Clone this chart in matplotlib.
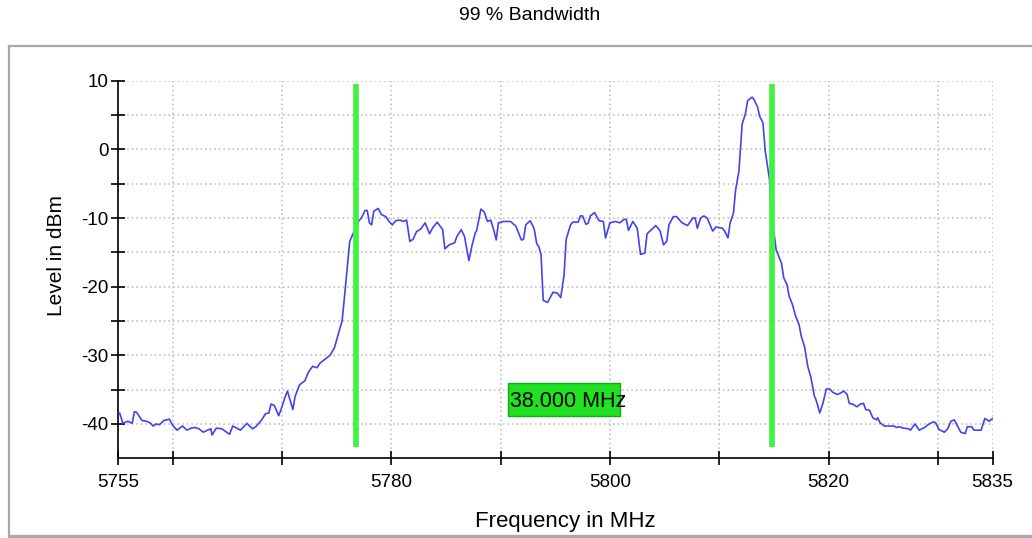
import matplotlib
matplotlib.use("Agg")
import matplotlib.pyplot as plt
from matplotlib.lines import Line2D
from matplotlib.patches import Rectangle

# ---------------- data ----------------
freq_mhz = [
    5755.0, 5755.15, 5755.45, 5755.9, 5756.3, 5756.5, 5756.7, 5757.2, 5757.6, 5758.0,
    5758.2, 5758.5, 5758.8, 5759.2, 5759.7, 5760.0, 5760.4, 5760.9, 5761.3, 5761.7,
    5762.0, 5762.4, 5762.8, 5763.2, 5763.5, 5763.6, 5764.0, 5764.5, 5765.2, 5765.5,
    5766.2, 5766.8, 5767.3, 5767.6, 5768.1, 5768.5, 5768.8, 5769.0, 5769.3, 5769.7,
    5770.0, 5770.3, 5770.5, 5771.0, 5771.2, 5771.6, 5772.1, 5772.4, 5772.8, 5773.2,
    5773.5, 5774.0, 5774.4, 5774.8, 5775.1, 5775.5, 5775.7, 5776.2, 5776.6, 5776.8,
    5777.0, 5777.3, 5777.6, 5777.8, 5778.0, 5778.2, 5778.4, 5778.8, 5779.1, 5779.5,
    5779.8, 5780.1, 5780.4, 5780.8, 5781.1, 5781.4, 5781.7, 5782.0, 5782.3, 5782.7,
    5783.1, 5783.5, 5783.8, 5784.2, 5784.7, 5784.9, 5785.3, 5785.8, 5786.0, 5786.4,
    5786.7, 5787.1, 5787.4, 5787.7, 5787.8, 5788.2, 5788.5, 5788.8, 5789.1, 5789.4,
    5789.6, 5789.8, 5790.3, 5790.9, 5791.4, 5791.9, 5792.1, 5792.3, 5792.7, 5793.0,
    5793.1, 5793.3, 5793.5, 5793.7, 5793.9, 5794.3, 5794.8, 5795.2, 5795.5, 5795.8,
    5796.0, 5796.4, 5796.6, 5797.1, 5797.3, 5797.5, 5797.8, 5798.0, 5798.2, 5798.6,
    5799.0, 5799.4, 5799.6, 5800.0, 5800.5, 5800.9, 5801.3, 5801.5, 5801.7, 5802.1,
    5802.5, 5802.8, 5803.2, 5803.4, 5803.8, 5804.2, 5804.6, 5804.9, 5805.2, 5805.4,
    5805.8, 5806.1, 5806.6, 5807.1, 5807.6, 5807.8, 5808.0, 5808.3, 5808.6, 5808.9,
    5809.4, 5809.7, 5810.3, 5810.5, 5810.8, 5811.0, 5811.3, 5811.5, 5811.8, 5812.1,
    5812.4, 5812.6, 5813.0, 5813.2, 5813.5, 5813.7, 5814.0, 5814.2, 5814.6, 5814.7,
    5815.0, 5815.2, 5815.7, 5815.9, 5816.2, 5816.4, 5816.7, 5816.95, 5817.3, 5817.5,
    5817.8, 5818.1, 5818.4, 5818.7, 5818.9, 5819.2, 5819.5, 5819.8, 5820.1, 5820.4,
    5820.8, 5821.1, 5821.4, 5821.7, 5821.9, 5822.2, 5822.6, 5822.9, 5823.2, 5823.4,
    5823.75, 5824.05, 5824.4, 5824.5, 5824.7, 5825.1, 5825.6, 5826.0, 5826.2, 5826.5,
    5826.8, 5827.3, 5827.5, 5827.9, 5828.3, 5828.8, 5829.2, 5829.6, 5829.8, 5830.1,
    5830.6, 5830.9, 5831.2, 5831.5, 5831.8, 5832.1, 5832.5, 5832.7, 5833.1, 5833.3,
    5833.96, 5834.3, 5834.7, 5835.0,
]
level_dbm = [
    -38.4, -38.4, -39.9, -39.6, -39.9, -38.2, -38.3, -39.5, -39.6, -39.9,
    -40.3, -40.0, -40.1, -39.5, -39.3, -40.2, -40.9, -40.3, -40.9, -40.6,
    -40.5, -40.7, -41.2, -40.9, -40.7, -41.6, -40.6, -40.7, -41.5, -40.3,
    -40.9, -39.9, -40.7, -40.4, -39.5, -38.5, -38.4, -37.1, -37.3, -38.8,
    -37.5, -36.0, -35.2, -37.9, -36.0, -34.3, -33.7, -32.5, -31.6, -31.8,
    -31.1, -30.5, -30.0, -28.9, -27.2, -25.0, -21.8, -13.4, -11.95, -11.8,
    -10.5, -9.9, -8.9, -8.9, -10.7, -11.0, -9.0, -8.6, -9.5, -9.8,
    -10.5, -11.0, -10.4, -10.3, -10.5, -10.3, -13.4, -13.1, -12.0, -11.6,
    -10.7, -12.3, -11.4, -10.6, -11.7, -14.5, -13.9, -13.6, -12.7, -11.7,
    -12.7, -16.2, -13.9, -12.1, -11.9, -8.7, -9.1, -10.5, -10.3, -11.9,
    -13.2, -10.7, -10.5, -10.5, -11.2, -13.2, -13.1, -11.0, -10.4, -11.3,
    -11.8, -13.7, -14.2, -15.3, -22.0, -22.3, -20.8, -20.95, -21.6, -18.4,
    -13.1, -11.0, -10.6, -10.6, -9.7, -9.7, -10.9, -10.8, -9.7, -9.2,
    -10.4, -10.5, -12.9, -10.7, -10.5, -10.7, -10.2, -10.2, -11.8, -10.5,
    -11.5, -15.3, -15.1, -12.3, -11.7, -11.1, -11.9, -13.9, -13.4, -11.0,
    -9.8, -9.8, -10.7, -11.1, -10.0, -10.0, -11.5, -10.0, -9.7, -10.0,
    -11.9, -11.3, -11.5, -11.9, -12.9, -10.7, -9.3, -5.9, -3.2, 3.7,
    5.2, 7.1, 7.6, 7.2, 6.2, 4.8, 3.9, -0.1, -4.4, -8.3,
    -12.0, -14.6, -16.6, -18.7, -19.7, -21.4, -22.6, -24.1, -25.5, -27.2,
    -28.7, -31.6, -33.3, -35.9, -36.7, -38.4, -36.9, -34.9, -34.9, -35.4,
    -35.7, -35.5, -35.2, -35.7, -37.0, -37.1, -37.5, -37.1, -37.0, -37.9,
    -38.0, -39.1, -39.4, -39.1, -39.8, -40.3, -40.3, -40.3, -40.5, -40.4,
    -40.6, -40.7, -40.9, -40.0, -40.9, -40.5, -40.0, -39.7, -39.8, -40.8,
    -41.2, -40.7, -39.6, -39.4, -40.3, -41.2, -41.4, -40.4, -40.4, -40.9,
    -40.9, -39.2, -39.6, -39.2,
]
marker_freqs = [5776.8, 5814.8]
bandwidth_label = "38.000 MHz"

x_ticks = [5755, 5760, 5770, 5780, 5790, 5800, 5810, 5820, 5830, 5835]
x_tick_labels = ["5755", "", "", "5780", "", "5800", "", "5820", "", "5835"]
y_ticks = [-40, -35, -30, -25, -20, -15, -10, -5, 0, 5, 10]
y_tick_labels = ["-40", "", "-30", "", "-20", "", "-10", "", "0", "", "10"]

title = "99 % Bandwidth"
x_label = "Frequency in MHz"
y_label = "Level in dBm"

# ---------------- figure ----------------
W, H = 1032, 538
plt.rcParams["font.family"] = ["Liberation Sans", "DejaVu Sans"]
fig = plt.figure(figsize=(W / 100, H / 100), dpi=100)
fig.patch.set_facecolor("white")

def fx(px):
    return px / W

def fy(py):
    return 1 - py / H

# outer grey frame
frame_kw = dict(color="#a8a8a8", lw=1.6, transform=fig.transFigure)
fig.add_artist(Line2D([fx(9), fx(W + 5)], [fy(46), fy(46)], **frame_kw))
fig.add_artist(Line2D([fx(9), fx(9)], [fy(46), fy(535)], **frame_kw))
fig.add_artist(Line2D([fx(9), fx(W + 5)], [fy(535.5), fy(535.5)], color="#a8a8a8", lw=2.4,
                      transform=fig.transFigure))

ax = fig.add_axes([fx(118), fy(458.3), fx(992.5) - fx(118), fy(80.7) - fy(458.3)])
ax.set_xlim(5755, 5835)
ax.set_ylim(-45, 10)

for s in ("top", "right"):
    ax.spines[s].set_visible(False)
for s in ("left", "bottom"):
    ax.spines[s].set_linewidth(1.2)
    ax.spines[s].set_color("black")

ax.set_xticks(x_ticks)
ax.set_xticklabels(x_tick_labels)
ax.set_yticks(y_ticks)
ax.set_yticklabels(y_tick_labels)
ax.tick_params(axis="both", direction="inout", length=10, width=1.2, colors="black",
               labelsize=13.5)
ax.tick_params(axis="x", pad=6)
ax.tick_params(axis="y", pad=2)

ax.grid(True, color="#b8b8b8", linestyle=(0, (1, 2)), linewidth=1.1)
ax.set_axisbelow(True)

ax.plot(freq_mhz, level_dbm, color="#4343f0", lw=1.2, zorder=3)

ax.vlines(marker_freqs, -43.3, 9.5, colors="#44f044", lw=4.1, zorder=4)

# bandwidth label box between the markers
cx = (marker_freqs[0] + marker_freqs[1]) / 2
box_w, box_h = 10.3, 4.7
box = Rectangle((cx - box_w / 2, -36.45 - box_h / 2), box_w, box_h,
                facecolor="#22e022", edgecolor="#15a815", lw=1.0, zorder=5)
ax.add_patch(box)
lbl = ax.text(cx - box_w / 2 + 0.2, -36.75, bandwidth_label, ha="left", va="center",
              fontsize=15.5, color="black", zorder=6)
lbl.set_clip_path(box)

fig.text(fx(530), fy(15), title, ha="center", va="center", fontsize=14)
fig.text(fx(56), fy(256), y_label, ha="center", va="center", rotation=90, fontsize=15)
fig.text(fx(565), fy(522), x_label, ha="center", va="center", fontsize=16)

fig.savefig("out.png", dpi=100)
